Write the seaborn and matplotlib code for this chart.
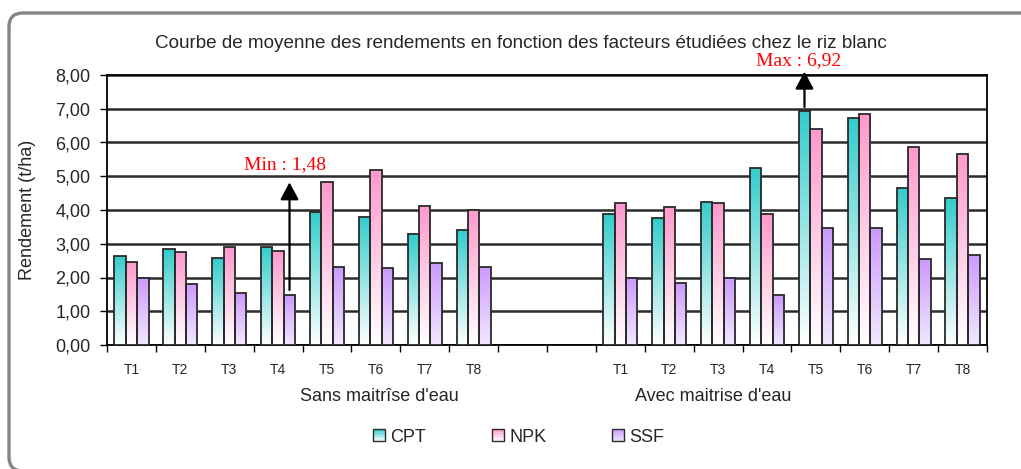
import numpy as np
import pandas as pd
import matplotlib
matplotlib.use("Agg")
import matplotlib.pyplot as plt
import seaborn as sns
from matplotlib.patches import FancyBboxPatch, Rectangle
from matplotlib.legend_handler import HandlerBase
from matplotlib.colors import to_rgb
from matplotlib.ticker import FixedLocator, NullFormatter

# ---------------- data ----------------
treatments = ["T1", "T2", "T3", "T4", "T5", "T6", "T7", "T8"]
groups = ["Sans maitrîse d'eau", "Avec maitrise d'eau"]
series = ["CPT", "NPK", "SSF"]

sans_cpt = [2.64, 2.84, 2.57, 2.89, 3.93, 3.80, 3.30, 3.41]
sans_npk = [2.47, 2.76, 2.89, 2.79, 4.82, 5.18, 4.13, 4.01]
sans_ssf = [1.99, 1.82, 1.55, 1.48, 2.32, 2.28, 2.43, 2.32]
avec_cpt = [3.87, 3.76, 4.24, 5.25, 6.92, 6.74, 4.64, 4.35]
avec_npk = [4.20, 4.09, 4.20, 3.87, 6.39, 6.84, 5.88, 5.66]
avec_ssf = [1.99, 1.85, 1.99, 1.48, 3.48, 3.48, 2.54, 2.68]

yticks = [0, 1, 2, 3, 4, 5, 6, 7, 8]
ytick_labels = ["0,00", "1,00", "2,00", "3,00", "4,00", "5,00", "6,00", "7,00", "8,00"]

title = "Courbe de moyenne des rendements en fonction des facteurs étudiées chez le riz blanc"
ylabel = "Rendement (t/ha)"
min_label = "Min : 1,48"
max_label = "Max : 6,92"
min_value = 1.48
max_value = 6.92

top_colors = {"CPT": "#33CCCC", "NPK": "#FF99CC", "SSF": "#CC99FF"}
bottom_colors = {"CPT": "#FFFFFF", "NPK": "#FFFFFF", "SSF": "#F2E8FF"}

# ---------------- table ----------------
values = {
    (0, "CPT"): sans_cpt, (0, "NPK"): sans_npk, (0, "SSF"): sans_ssf,
    (1, "CPT"): avec_cpt, (1, "NPK"): avec_npk, (1, "SSF"): avec_ssf,
}
rows = []
for (g, s), vals in values.items():
    for t, v in zip(treatments, vals):
        rows.append({"slot": f"{g}|{t}", "series": s, "value": v})
df = pd.DataFrame(rows)
gap_slots = ["gap_a", "gap_b"]
order = [f"0|{t}" for t in treatments] + gap_slots + [f"1|{t}" for t in treatments]
tick_text = treatments + ["", ""] + treatments

# ---------------- figure ----------------
sns.set_theme(style="white")
plt.rcParams["font.family"] = ["Liberation Sans", "DejaVu Sans"]

W, H = 1021, 469
fig = plt.figure(figsize=(W / 100, H / 100), dpi=100)
fig.patch.set_facecolor("white")
ax = fig.add_axes([107 / W, 1 - 345 / H, 880 / W, 270 / H])

bar_width = 0.7
sns.barplot(data=df, x="slot", y="value", hue="series", order=order,
            hue_order=series, palette=top_colors, width=bar_width, gap=0,
            errorbar=None, edgecolor="#2a2a2a", linewidth=1.3,
            legend=False, ax=ax, zorder=3)


def gradient(c_top, c_bot, n=256):
    a = np.array(to_rgb(c_top))
    b = np.array(to_rgb(c_bot))
    t = np.linspace(0, 1, n)[:, None]
    return (a * (1 - t) + b * t)[:, None, :]


for s, cont in zip(series, ax.containers):
    img = gradient(top_colors[s], bottom_colors[s])
    for bar in cont:
        h = bar.get_height()
        if not np.isfinite(h) or h <= 0:
            continue
        x0 = bar.get_x()
        w = bar.get_width()
        bar.set_facecolor("none")
        im = ax.imshow(img, extent=[x0, x0 + w, 0, h], origin="upper",
                       aspect="auto", zorder=2.9, interpolation="bilinear")
        im.set_clip_path(bar)

ax.set_xlim(-0.5, len(order) - 0.5)
ax.set_ylim(0, 8)

# grid & spines
ax.set_yticks(yticks)
ax.set_yticklabels(ytick_labels, fontsize=13)
ax.yaxis.grid(True, color="#2a2a2a", linewidth=1.8, zorder=1)
ax.set_axisbelow(True)
for sp in ax.spines.values():
    sp.set_visible(True)
    sp.set_color("black")
    sp.set_linewidth(1.3)
ax.tick_params(axis="y", which="major", direction="out", length=5,
               width=1.0, color="black", pad=7, left=True)

ax.set_xticks(range(len(order)))
ax.set_xticklabels(tick_text, fontsize=10)
ax.tick_params(axis="x", which="major", length=0, pad=13)
ax.xaxis.set_minor_locator(FixedLocator(np.arange(-0.5, len(order), 1.0)))
ax.xaxis.set_minor_formatter(NullFormatter())
ax.tick_params(axis="x", which="minor", direction="out", length=5,
               width=1.0, color="black", bottom=True)
ax.set_xlabel("")
ax.set_ylabel(ylabel, fontsize=13, labelpad=14)

# group labels
ax.text(5.08, -0.19, groups[0], transform=ax.get_xaxis_transform(),
        ha="center", va="center", fontsize=13)
ax.text(11.9, -0.19, groups[1], transform=ax.get_xaxis_transform(),
        ha="center", va="center", fontsize=13)

# title
fig.text(521 / W, 1 - 43 / H, title, ha="center", va="center", fontsize=13.6)

# arrows + annotations
off = bar_width / 3
min_x = order.index("0|T4") + off
max_x = order.index("1|T5") - off
arrow_style = dict(arrowstyle="-|>,head_length=0.75,head_width=0.4",
                   color="black", lw=1.6, mutation_scale=14,
                   shrinkA=0, shrinkB=0)
ax.annotate("", xy=(min_x, 4.82), xytext=(min_x, min_value + 0.15),
            arrowprops=arrow_style, annotation_clip=False, zorder=6)
ax.annotate("", xy=(max_x, 8.1), xytext=(max_x, max_value + 0.13),
            arrowprops=arrow_style, annotation_clip=False, zorder=6)
ax.text(min_x - 0.09, 5.36, min_label, color="#FF0000", ha="center",
        va="center", fontsize=14, family=["Liberation Serif", "DejaVu Serif"])
ax.text(max_x - 0.12, 8.43, max_label, color="#FF0000", ha="center",
        va="center", fontsize=14, family=["Liberation Serif", "DejaVu Serif"],
        clip_on=False)


# legend with gradient squares
class GradientHandler(HandlerBase):
    def __init__(self, c_top, c_bot, n=8):
        super().__init__()
        self.c_top, self.c_bot, self.n = c_top, c_bot, n

    def create_artists(self, legend, orig_handle, xdescent, ydescent,
                       width, height, fontsize, trans):
        arts = []
        a = np.array(to_rgb(self.c_top))
        b = np.array(to_rgb(self.c_bot))
        side = min(width, height)
        x0 = -xdescent + (width - side) / 2
        y0 = -ydescent + (height - side) / 2
        for k in range(self.n):
            t = (k + 0.5) / self.n
            col = a * (1 - t) + b * t
            yk = y0 + side * (1 - (k + 1) / self.n)
            arts.append(Rectangle((x0, yk), side, side / self.n,
                                  facecolor=col, edgecolor="none",
                                  transform=trans))
        arts.append(Rectangle((x0, y0), side, side, facecolor="none",
                              edgecolor="#2a2a2a", lw=1.0, transform=trans))
        return arts


handles = [Rectangle((0, 0), 1, 1) for _ in series]
handler_map = {h: GradientHandler(top_colors[s], bottom_colors[s])
               for h, s in zip(handles, series)}
fig.legend(handles, series, handler_map=handler_map, loc="center",
           bbox_to_anchor=(519 / W, 1 - 437 / H), ncol=3, frameon=False,
           fontsize=13, handlelength=0.65, handleheight=0.65,
           handletextpad=0.3, columnspacing=3.65)

# outer rounded border
border = FancyBboxPatch((9, -2), 1040, 458,
                        boxstyle="round,pad=0,rounding_size=14",
                        transform=None, facecolor="none",
                        edgecolor="#858585", linewidth=2.4, zorder=10)
fig.add_artist(border)

fig.savefig("out.png", dpi=100, facecolor="white")
